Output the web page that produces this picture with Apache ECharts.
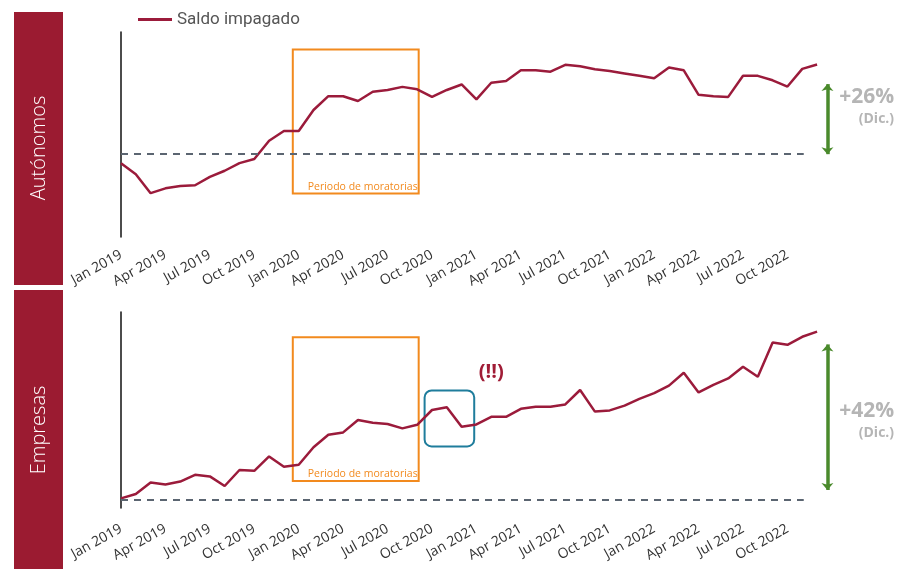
<!DOCTYPE html>
<html>
<head>
<meta charset="utf-8">
<script src="https://cdn.jsdelivr.net/npm/echarts@6/dist/echarts.min.js"></script>
<style>
  html, body { margin: 0; padding: 0; background: #fff; }
  #chart { width: 898px; height: 569px; }
</style>
</head>
<body>
<div id="chart"></div>
<script>
// indice del saldo impagado (base 100 = dic. 2018), ene 2019 - dic 2022
var tickLabels = ['Jan 2019', 'Apr 2019', 'Jul 2019', 'Oct 2019',
	'Jan 2020', 'Apr 2020', 'Jul 2020', 'Oct 2020',
	'Jan 2021', 'Apr 2021', 'Jul 2021', 'Oct 2021',
	'Jan 2022', 'Apr 2022', 'Jul 2022', 'Oct 2022'];

var autonomos = [97.4, 94.2, 88.7, 90.1, 90.8, 91.0, 93.4, 95.2, 97.4, 98.6, 103.9, 106.7,
	106.7, 112.8, 116.8, 116.8, 115.4, 118.1, 118.6, 119.5, 118.8, 116.6, 118.6, 120.2,
	115.9, 120.7, 121.2, 124.3, 124.3, 123.9, 125.9, 125.5, 124.6, 124.1, 123.4, 122.7,
	122.0, 125.1, 124.3, 117.2, 116.8, 116.6, 122.7, 122.7, 121.4, 119.6, 124.7, 126.0];

var empresas = [100.4, 101.5, 104.4, 103.9, 104.6, 106.3, 105.9, 103.5, 107.5, 107.3, 110.9, 108.3,
	108.8, 113.2, 116.3, 116.9, 120.0, 119.3, 119.0, 117.9, 118.8, 122.5, 123.2, 118.3,
	118.9, 120.8, 120.8, 122.8, 123.3, 123.3, 123.9, 127.5, 122.1, 122.4, 123.6, 125.3,
	126.7, 128.6, 131.8, 126.9, 128.8, 130.4, 133.3, 130.8, 139.4, 138.8, 140.8, 142.1];

var LINE_COLOR = '#9b1b3b';
var BAND_COLOR = '#9b1b31';
var ORANGE = '#f28a1e';
var GREEN = '#4a8a2c';
var TEAL = '#1f7d9c';
var GRAY_TXT = '#b5b5b5';
var FONT = 'Open Sans';

var X_MAX = 52.4;

var chart = echarts.init(document.getElementById('chart'));

function toPairs(arr) {
	return arr.map(function (v, i) { return [i, v]; });
}

function xAxisFor(idx, margin) {
	return {
		type: 'value',
		gridIndex: idx,
		min: 0,
		max: X_MAX,
		interval: 3,
		axisLine: { show: false },
		axisTick: { show: false },
		splitLine: { show: false },
		axisLabel: {
			rotate: 29,
			margin: margin,
			color: '#333',
			fontSize: 14,
			fontFamily: FONT,
			showMaxLabel: false,
			formatter: function (v) {
				var k = v / 3;
				return (v % 3 === 0 && k < tickLabels.length) ? tickLabels[k] : '';
			}
		}
	};
}

function yAxisFor(idx, min, max) {
	return {
		type: 'value',
		gridIndex: idx,
		min: min,
		max: max,
		axisLine: { show: true, lineStyle: { color: '#111', width: 1.5 } },
		axisTick: { show: false },
		axisLabel: { show: false },
		splitLine: { show: false }
	};
}

function baseLine(xEnd) {
	return [
		{ coord: [0, 100], symbol: 'none', lineStyle: { color: '#5b6571', width: 2, type: [7, 6] } },
		{ coord: [xEnd, 100], symbol: 'none' }
	];
}

function arrowLine(x, yLow, yTop) {
	return [
		{ coord: [x, yLow], symbol: 'arrow', symbolSize: [9, 7], lineStyle: { color: GREEN, width: 3.5, type: 'solid' } },
		{ coord: [x, yTop], symbol: 'arrow', symbolSize: [9, 7] }
	];
}

function pctLabel(x, y, txt) {
	return {
		coord: [x, y],
		symbol: 'circle',
		symbolSize: 0,
		label: {
			show: true,
			position: 'left',
			distance: 0,
			align: 'right',
			formatter: '{a|' + txt + '}\n{b|(Dic.)}',
			rich: {
				a: { fontSize: 21, fontWeight: 'bold', color: GRAY_TXT, fontFamily: FONT, lineHeight: 24, align: 'right' },
				b: { fontSize: 14, fontWeight: 'bold', color: GRAY_TXT, fontFamily: FONT, lineHeight: 20, align: 'right' }
			}
		}
	};
}

function moratoria(yBottom, yTop) {
	return {
		silent: true,
		itemStyle: { color: 'rgba(0,0,0,0)', borderColor: ORANGE, borderWidth: 2 },
		label: {
			show: true,
			position: 'insideBottomRight',
			distance: 2,
			color: ORANGE,
			fontSize: 10.5,
			fontFamily: FONT
		},
		data: [[
			{ name: 'Periodo de moratorias', coord: [11.6, yBottom] },
			{ coord: [20.1, yTop] }
		]]
	};
}

var option = {
	animation: false,
	legend: {
		data: ['Saldo impagado'],
		left: 133,
		top: 6,
		icon: 'rect',
		itemWidth: 34,
		itemHeight: 3,
		itemGap: 8,
		textStyle: { fontSize: 17, color: '#555', fontFamily: 'Roboto' }
	},
	grid: [
		{ left: 121, top: 32, width: X_MAX * 14.81, height: 205 },
		{ left: 121, top: 312, width: X_MAX * 14.81, height: 196 }
	],
	xAxis: [xAxisFor(0, 17), xAxisFor(1, 20)],
	yAxis: [yAxisFor(0, 76, 135.4), yAxisFor(1, 98, 147)],
	graphic: [
		{ type: 'rect', shape: { x: 14, y: 12, width: 49, height: 273 }, style: { fill: BAND_COLOR } },
		{ type: 'rect', shape: { x: 14, y: 290, width: 49, height: 279 }, style: { fill: BAND_COLOR } },
		{
			type: 'text', x: 39, y: 148, rotation: Math.PI / 2,
			style: { text: 'Autónomos', fill: '#fff', font: '300 20px "Open Sans"', align: 'center', verticalAlign: 'middle' }
		},
		{
			type: 'text', x: 39, y: 430, rotation: Math.PI / 2,
			style: { text: 'Empresas', fill: '#fff', font: '300 20px "Open Sans"', align: 'center', verticalAlign: 'middle' }
		}
	],
	series: [
		{
			name: 'Saldo impagado',
			type: 'line',
			xAxisIndex: 0,
			yAxisIndex: 0,
			symbol: 'none',
			lineStyle: { color: LINE_COLOR, width: 2.5 },
			itemStyle: { color: LINE_COLOR },
			data: toPairs(autonomos),
			markLine: {
				silent: true,
				symbol: ['none', 'none'],
				label: { show: false },
				data: [baseLine(46.1), arrowLine(47.7, 100, 120.3)]
			},
			markArea: moratoria(88.6, 130.3),
			markPoint: {
				silent: true,
				data: [pctLabel(52.2, 113.6, '+26%')]
			}
		},
		{
			name: 'Saldo impagado',
			type: 'line',
			xAxisIndex: 1,
			yAxisIndex: 1,
			symbol: 'none',
			lineStyle: { color: LINE_COLOR, width: 2.5 },
			itemStyle: { color: LINE_COLOR },
			data: toPairs(empresas),
			markLine: {
				silent: true,
				symbol: ['none', 'none'],
				label: { show: false },
				data: [baseLine(46.1), arrowLine(47.7, 102.5, 138.9)]
			},
			markArea: moratoria(104.75, 140.7),
			markPoint: {
				silent: true,
				data: [
					pctLabel(52.2, 119.75, '+42%'),
					{
						coord: [25, 131.9],
						symbol: 'circle',
						symbolSize: 0,
						label: {
							show: true,
							position: 'inside',
							formatter: '(!!)',
							color: '#a01c36',
							fontSize: 20,
							fontWeight: 'bold',
							fontFamily: FONT
						}
					}
				]
			}
		},
		{
			type: 'custom',
			xAxisIndex: 1,
			yAxisIndex: 1,
			silent: true,
			data: [[20.5, 23.85, 113.4, 127.4]],
			renderItem: function (params, api) {
				var p0 = api.coord([api.value(0), api.value(3)]);
				var p1 = api.coord([api.value(1), api.value(2)]);
				return {
					type: 'rect',
					shape: { x: p0[0], y: p0[1], width: p1[0] - p0[0], height: p1[1] - p0[1], r: 7 },
					style: { fill: 'none', stroke: TEAL, lineWidth: 2 }
				};
			}
		}
	]
};

chart.setOption(option);
</script>
</body>
</html>
